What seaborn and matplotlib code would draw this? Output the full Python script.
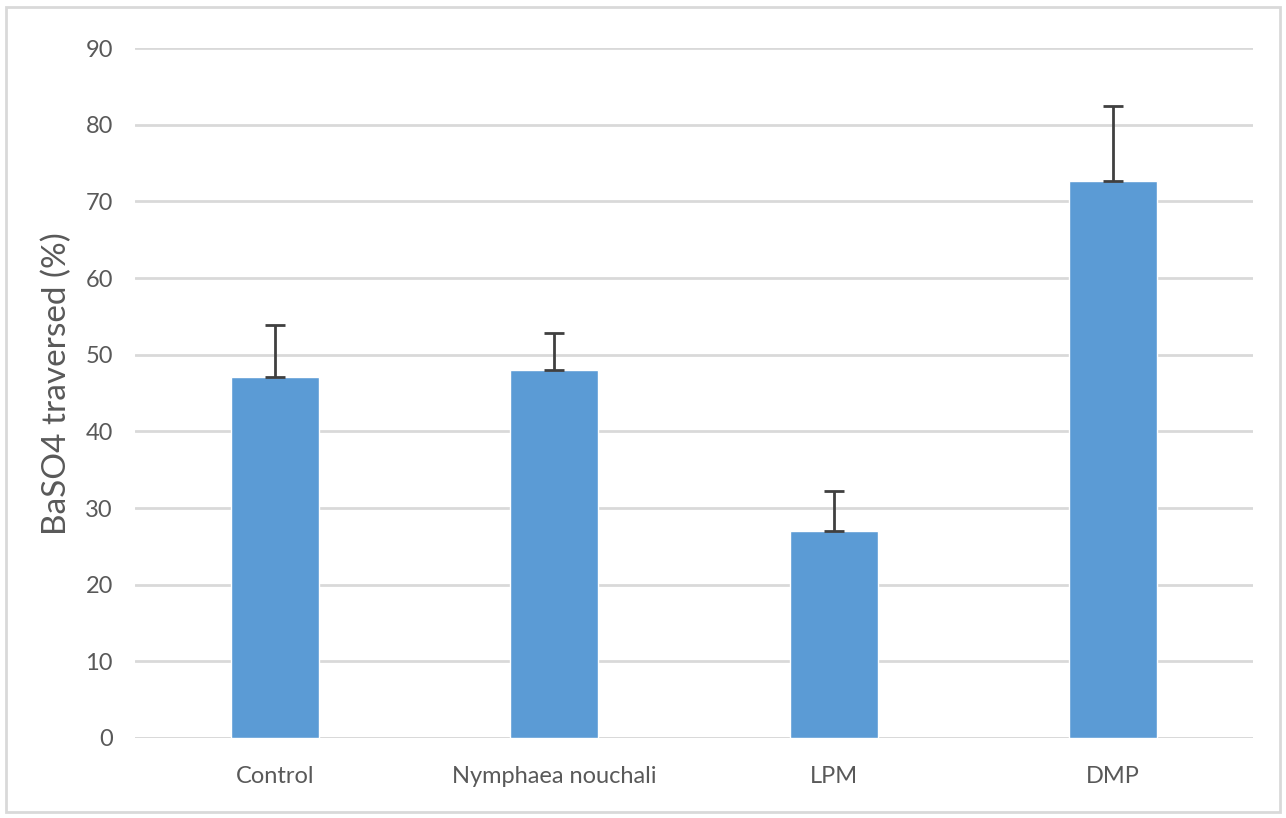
import pandas as pd
import matplotlib.pyplot as plt
import seaborn as sns
from matplotlib.patches import Rectangle

# --- Data ---
groups = ["Control", "Nymphaea nouchali", "LPM", "DMP"]
traversed = [47.1, 48.0, 27.0, 72.6]
sd_upper = [6.8, 4.8, 5.2, 9.8]

df = pd.DataFrame({"group": groups, "value": traversed, "err": sd_upper})

sns.set_style("white")
plt.rcParams['font.family'] = ['Lato', 'DejaVu Sans']

fig = plt.figure(figsize=(12.86, 8.18), dpi=100)
ax = fig.add_axes([0.105, 0.0978, 0.8693, 0.8435])

sns.barplot(data=df, x="group", y="value", color="#5B9BD5", width=0.315,
            errorbar=None, saturation=1, ax=ax, zorder=2)

# upper-only error bars, like the spreadsheet original
ax.errorbar(range(len(df)), df["value"], yerr=[[0] * len(df), df["err"]],
            fmt="none", ecolor="#404040", elinewidth=2, capsize=7, capthick=2,
            zorder=3)

ax.set_ylim(0, 90)
ax.set_yticks(range(0, 91, 10))
ax.set_xlim(-0.5, 3.5)
ax.yaxis.grid(True, color="#D9D9D9", linewidth=2, zorder=0)
ax.set_axisbelow(True)
for s in ax.spines.values():
    s.set_visible(False)
ax.axhline(0, color="#D9D9D9", linewidth=2, zorder=1)

ax.set_xlabel("")
ax.set_ylabel("BaSO4 traversed (%)", fontsize=24, color="#595959")
ax.yaxis.set_label_coords(-0.056, 0.514)
ax.tick_params(axis="both", length=0, labelsize=17, labelcolor="#595959")
ax.tick_params(axis="x", pad=20)
ax.tick_params(axis="y", pad=16)

# light frame around the whole chart
fig.patches.append(Rectangle((0.005, 0.007), 0.99, 0.985, transform=fig.transFigure,
                             fill=False, edgecolor="#D9D9D9", linewidth=2))

fig.savefig("out.png", dpi=100)
